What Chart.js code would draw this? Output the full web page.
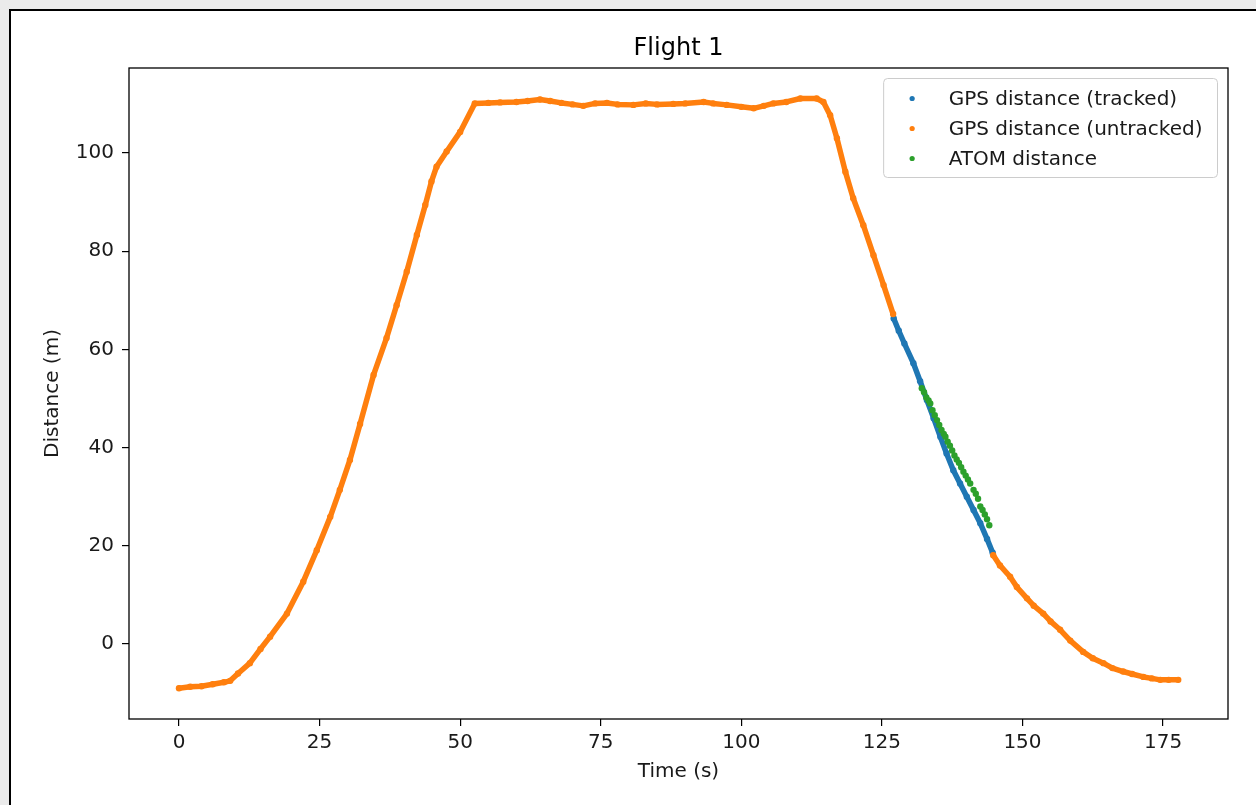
<!DOCTYPE html>
<html>
<head>
<meta charset="utf-8">
<title>Flight 1</title>
<script src="https://cdn.jsdelivr.net/npm/chart.js@4.4.1/dist/chart.umd.min.js"></script>
<style>
  html, body {
    margin: 0;
    padding: 0;
    width: 1256px;
    height: 805px;
    overflow: hidden;
    background: #ebebeb;
  }
  #frame {
    position: absolute;
    left: 9px;
    top: 9px;
    width: 1300px;
    height: 900px;
    background: #ffffff;
    border-left: 2px solid #000;
    border-top: 2px solid #000;
  }
  #flight-chart {
    position: absolute;
    left: 0;
    top: 0;
  }
</style>
</head>
<body>
<div id="frame"></div>
<canvas id="flight-chart" width="1256" height="805"></canvas>
<script>
// Flight 1 - distance vs time

// GPS distance before tracking starts (untracked)
const untrackedTimeA = [0, 2, 4, 6, 8, 9.1, 10.5, 12.6, 14.5, 16.2, 19.2, 22.1, 24.5, 26.9, 28.6, 30.4, 32.2,
  34.6, 36.9, 38.7, 40.5, 42.3, 43.8, 44.9, 45.8, 47.6, 50.0, 52.6, 55, 57.1, 60, 62, 64.2, 66, 68, 70,
  71.9, 74, 76.1, 78, 80.8, 83, 85, 87.9, 90, 93.3, 95, 97.4, 100, 102.2, 104, 105.7, 108, 110.5, 113.4,
  114.6, 115.8, 117.0, 118.5, 119.9, 121.7, 123.5, 125.3, 127.0];
const untrackedDistA = [-9.0, -8.7, -8.6, -8.2, -7.8, -7.5, -6.0, -3.9, -1.0, 1.5, 6.2, 12.7, 19.1, 25.9, 31.4, 37.5, 44.8,
  54.8, 62.3, 69.0, 75.8, 83.3, 89.4, 94.2, 97.2, 100.3, 104.3, 110.1, 110.2, 110.3, 110.4, 110.6, 110.9, 110.6, 110.2, 109.9,
  109.6, 110.1, 110.2, 109.9, 109.8, 110.1, 109.9, 110.0, 110.1, 110.4, 110.1, 109.8, 109.4, 109.1, 109.6, 110.1, 110.4, 111.1, 111.1,
  110.4, 107.7, 103.0, 96.2, 90.8, 85.3, 79.2, 73.1, 67.2];

// GPS distance after tracking ends (untracked)
const untrackedTimeB = [144.8, 146, 147.8, 149, 150.8, 152, 153.7, 155, 156.7, 158.5, 160.8, 162.5, 164.4, 166,
  167.9, 169.5, 171.5, 173, 174.5, 176, 177.7];
const untrackedDistB = [18.1, 16.0, 13.7, 11.6, 9.3, 7.8, 6.2, 4.6, 2.9, 0.7, -1.6, -2.9, -3.9, -4.9,
  -5.6, -6.1, -6.7, -7.0, -7.3, -7.3, -7.3];

// GPS distance while tracked
const trackedTime = [127.1, 128, 129, 130.6, 131.8, 133.0, 134.2, 135.4, 136.5, 137.7, 138.9, 140.1, 141.3,
  142.5, 143.7, 144.7];
const trackedDist = [66.3, 63.8, 61.2, 57.2, 53.5, 49.7, 46.0, 42.2, 38.8, 35.4, 32.7, 30.0, 27.3,
  24.6, 21.4, 18.6];

// ATOM distance
const atomTime = [132.1, 132.5, 132.9, 133.3, 133.6, 134.0, 134.4, 134.8, 135.2, 135.6, 136.0, 136.3, 136.7,
  137.1, 137.5, 137.9, 138.3, 138.7, 139.1, 139.5, 139.9, 140.3, 140.7, 141.3, 141.7, 142.1, 142.5, 142.9,
  143.3, 143.7, 144.1];
const atomDist = [52.1, 51.3, 50.2, 49.6, 49.0, 47.6, 46.6, 45.6, 44.6, 43.6, 42.8, 42.2, 41.2,
  40.4, 39.4, 38.4, 37.6, 36.9, 36.0, 35.1, 34.3, 33.5, 32.7, 31.4, 30.6, 29.6, 28.0, 27.3,
  26.4, 25.4, 24.2];

const xTickValues = [0, 25, 50, 75, 100, 125, 150, 175];
const yTickValues = [0, 20, 40, 60, 80, 100];

const BLUE = '#1f77b4';
const ORANGE = '#ff7f0e';
const GREEN = '#2ca02c';
const FONT = '"DejaVu Sans", "Liberation Sans", sans-serif';
const TEXT_COLOR = '#1a1a1a';

function toPoints(xs, ys) {
  return xs.map((x, i) => ({ x: x, y: ys[i] }));
}

function scatterSet(label, xs, ys, color, order, legendRank, joined) {
  return {
    label: label,
    data: toPoints(xs, ys),
    showLine: joined,
    borderColor: color,
    backgroundColor: color,
    borderWidth: 5.5,
    borderCapStyle: 'round',
    borderJoinStyle: 'round',
    pointRadius: 3.2,
    pointBorderWidth: 0,
    pointBackgroundColor: color,
    order: order,
    legendRank: legendRank
  };
}

// black box round the plot area, like matplotlib spines
const axesBoxPlugin = {
  id: 'axesBox',
  afterDatasetsDraw(chart) {
    const { ctx, chartArea: a } = chart;
    ctx.save();
    ctx.strokeStyle = '#000';
    ctx.lineWidth = 1.3;
    ctx.strokeRect(a.left, a.top, a.right - a.left, a.bottom - a.top);
    ctx.restore();
  }
};

// legend drawn inside the plot, upper right
const boxLegendPlugin = {
  id: 'boxLegend',
  afterDraw(chart) {
    const { ctx, chartArea: a } = chart;
    const entries = chart.data.datasets
      .filter(d => d.legendRank !== null)
      .sort((p, q) => p.legendRank - q.legendRank);

    ctx.save();
    ctx.font = '20px ' + FONT;
    const textWidth = Math.max(...entries.map(e => ctx.measureText(e.label).width));
    const padLeft = 28.5;
    const markerToText = 36.5;
    const rowGap = 30;
    const w = padLeft + markerToText + textWidth + 15;
    const h = 99;
    const right = a.right - 10.5;
    const top = a.top + 10.5;
    const left = right - w;
    const r = 4;

    ctx.beginPath();
    ctx.moveTo(left + r, top);
    ctx.lineTo(right - r, top);
    ctx.arcTo(right, top, right, top + r, r);
    ctx.lineTo(right, top + h - r);
    ctx.arcTo(right, top + h, right - r, top + h, r);
    ctx.lineTo(left + r, top + h);
    ctx.arcTo(left, top + h, left, top + h - r, r);
    ctx.lineTo(left, top + r);
    ctx.arcTo(left, top, left + r, top, r);
    ctx.closePath();
    ctx.fillStyle = 'rgba(255,255,255,0.8)';
    ctx.fill();
    ctx.strokeStyle = '#cccccc';
    ctx.lineWidth = 1;
    ctx.stroke();

    entries.forEach((e, i) => {
      const y = top + 20 + i * rowGap;
      ctx.beginPath();
      ctx.arc(left + padLeft, y, 2.6, 0, Math.PI * 2);
      ctx.fillStyle = e.backgroundColor;
      ctx.fill();
      ctx.fillStyle = TEXT_COLOR;
      ctx.textBaseline = 'middle';
      ctx.textAlign = 'left';
      ctx.fillText(e.label, left + padLeft + markerToText, y + 1);
    });
    ctx.restore();
  }
};

const datasets = [
  scatterSet('ATOM distance', atomTime, atomDist, GREEN, 0, 2, false),
  scatterSet('GPS distance (untracked)', untrackedTimeA, untrackedDistA, ORANGE, 1, 1, true),
  scatterSet('GPS distance (untracked) after', untrackedTimeB, untrackedDistB, ORANGE, 1, null, true),
  scatterSet('GPS distance (tracked)', trackedTime, trackedDist, BLUE, 2, 0, true)
];

const tickFont = { family: FONT, size: 20 };
const titleFont = { family: FONT, size: 20 };

new Chart(document.getElementById('flight-chart'), {
  type: 'scatter',
  data: { datasets: datasets },
  options: {
    responsive: false,
    animation: false,
    events: [],
    layout: { padding: { left: 0, right: 28, top: 0, bottom: 0 } },
    plugins: {
      legend: { display: false },
      tooltip: { enabled: false },
      title: {
        display: true,
        fullSize: false,
        text: 'Flight 1',
        color: '#000',
        font: { family: FONT, size: 24, weight: 'normal' },
        padding: { top: 34, bottom: 5.2 }
      }
    },
    scales: {
      x: {
        type: 'linear',
        min: -8.89,
        max: 186.55,
        afterFit: (scale) => { scale.height = 86; },
        afterBuildTicks: (scale) => { scale.ticks = xTickValues.map(v => ({ value: v })); },
        border: { display: false },
        grid: { display: true, drawOnChartArea: false, drawTicks: true, tickLength: 7, color: '#000', lineWidth: 1.2 },
        ticks: { autoSkip: false, maxRotation: 0, padding: 5, color: TEXT_COLOR, font: tickFont, callback: (v) => String(v) },
        title: { display: true, text: 'Time (s)', color: TEXT_COLOR, font: titleFont, padding: { top: 0, bottom: 21 } }
      },
      y: {
        type: 'linear',
        min: -15.27,
        max: 117.31,
        afterFit: (scale) => { scale.width = 129; },
        afterBuildTicks: (scale) => { scale.ticks = yTickValues.map(v => ({ value: v })); },
        border: { display: false },
        grid: { display: true, drawOnChartArea: false, drawTicks: true, tickLength: 7, color: '#000', lineWidth: 1.2 },
        ticks: { autoSkip: false, padding: 8, color: TEXT_COLOR, font: tickFont, callback: (v) => String(v) },
        title: { display: true, text: 'Distance (m)', color: TEXT_COLOR, font: titleFont, padding: { top: 41, bottom: 0 } }
      }
    }
  },
  plugins: [axesBoxPlugin, boxLegendPlugin]
});
</script>
</body>
</html>
